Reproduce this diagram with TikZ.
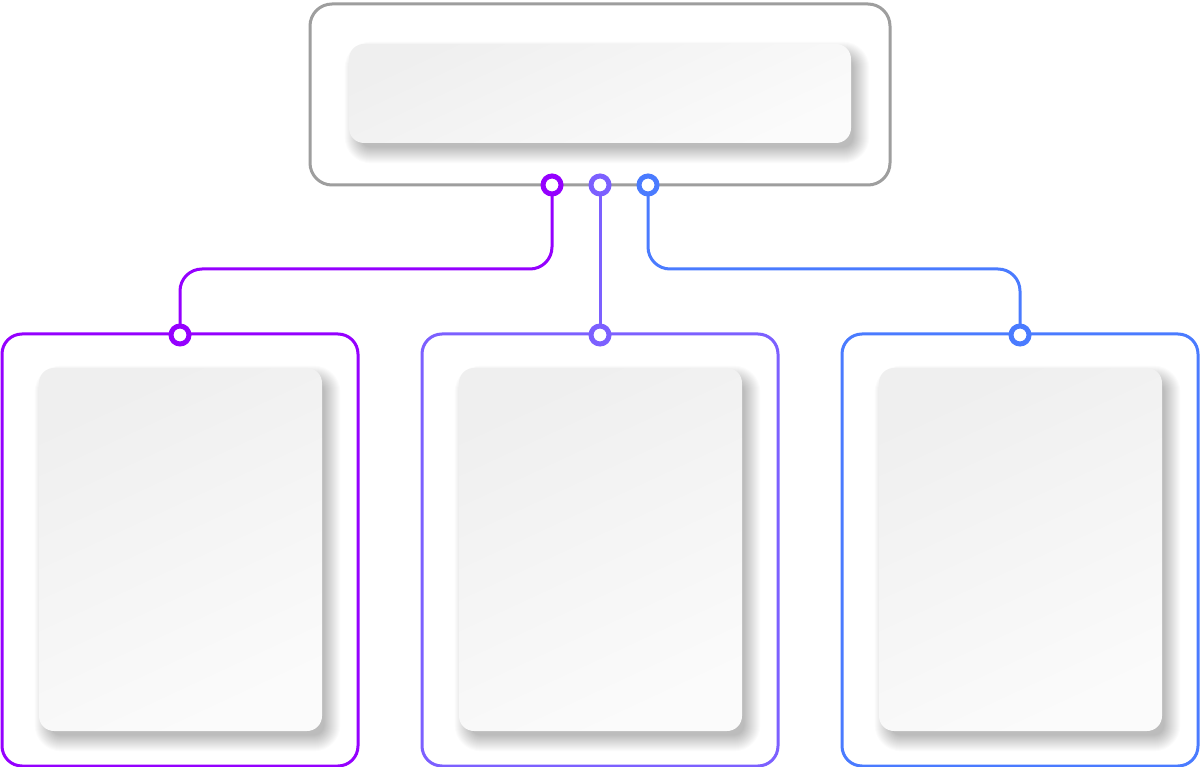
\documentclass[tikz,border=0pt]{standalone}
\usetikzlibrary{calc}
\definecolor{cpurple}{HTML}{9500FF}
\definecolor{cmid}{HTML}{7C60FF}
\definecolor{cblue}{HTML}{4A7BFF}
\definecolor{cgray}{HTML}{9E9E9E}
\definecolor{pA}{HTML}{EFEFEF}
\definecolor{pB}{HTML}{FBFBFB}
\pgfdeclarelayer{shadowlayer}
\pgfsetlayers{shadowlayer,main}
\tikzset{
  frame/.style={draw, line width=3pt, rounded corners=20pt, inner sep=0pt},
  panel/.style={rounded corners=15pt, inner sep=0pt, draw=none,
    top color=pA, bottom color=pB, shading angle=25},
  softshadow/.style={fill=black, fill opacity=0.015, draw=none},
  link/.style={line width=3pt, rounded corners=22pt},
  port/.style={circle, draw, fill=white, line width=5pt, minimum size=18pt, inner sep=0pt}
}
\begin{document}
\begin{tikzpicture}[x=1pt,y=1pt]
\begin{pgfonlayer}{shadowlayer}
\fill[white] (0,0) rectangle (1200,-767);
\end{pgfonlayer}
\useasboundingbox (0,0) rectangle (1200,-767);
% top box
\node[frame, draw=cgray, rounded corners=22pt, minimum width=580pt, minimum height=181pt] (top) at (600,-94.5) {};
\node[panel, minimum width=502pt, minimum height=99pt] (toppanel) at (600,-93.5) {};
% bottom boxes
\node[frame, draw=cpurple, minimum width=356pt, minimum height=432pt] (boxA) at (180,-550) {};
\node[frame, draw=cmid, minimum width=356pt, minimum height=432pt] (boxB) at (600,-550) {};
\node[frame, draw=cblue, minimum width=356pt, minimum height=432pt] (boxC) at (1020,-550) {};
\node[panel, minimum width=283pt, minimum height=363pt] (panelA) at (180.5,-549.5) {};
\node[panel, minimum width=283pt, minimum height=363pt] (panelB) at (600.5,-549.5) {};
\node[panel, minimum width=283pt, minimum height=363pt] (panelC) at (1020.5,-549.5) {};
% soft shadows under the panels
\begin{pgfonlayer}{shadowlayer}
\foreach \p in {toppanel,panelA,panelB,panelC}{
  \foreach \e [evaluate=\e as \r using 15+\e] in {-5,...,11}{
    \fill[softshadow, rounded corners=\r pt]
      ($(\p.south west)+(7-\e,-9-\e)$) rectangle ($(\p.north east)+(7+\e,-9+\e)$);
  }
}
\end{pgfonlayer}
% port positions
\coordinate (tA) at (552,-185);
\coordinate (tB) at (600,-185);
\coordinate (tC) at (648,-185);
\coordinate (bA) at (180,-335);
\coordinate (bB) at (600,-335);
\coordinate (bC) at (1020,-335);
\coordinate (bus) at (0,-269);
% connectors
\draw[link, cpurple] (tA) -- (tA |- bus) -| (bA);
\draw[link, cmid] (tB) -- (bB);
\draw[link, cblue] (tC) -- (tC |- bus) -| (bC);
% ports
\node[port, draw=cpurple] (portTA) at (tA) {};
\node[port, draw=cmid] (portTB) at (tB) {};
\node[port, draw=cblue] (portTC) at (tC) {};
\node[port, draw=cpurple] (portBA) at (bA) {};
\node[port, draw=cmid] (portBB) at (bB) {};
\node[port, draw=cblue] (portBC) at (bC) {};
\end{tikzpicture}
\end{document}
